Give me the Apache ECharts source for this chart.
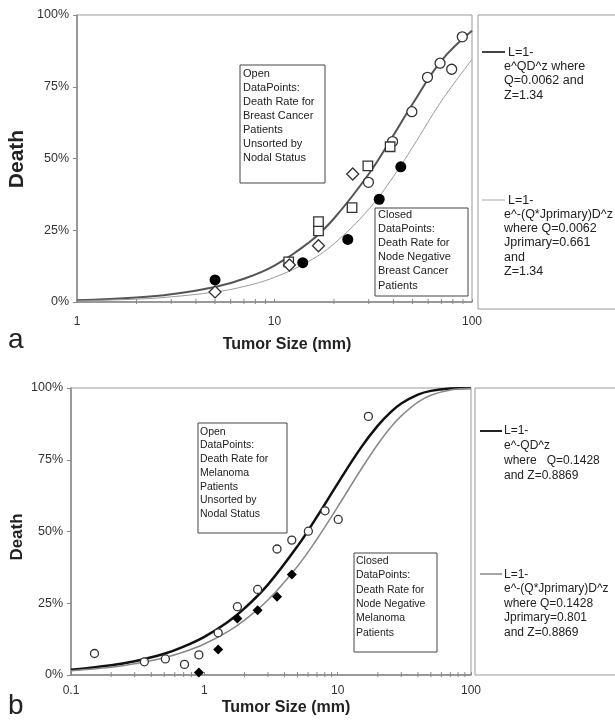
<!DOCTYPE html>
<html>
<head>
<meta charset="utf-8">
<script src="https://cdn.jsdelivr.net/npm/echarts@6/dist/echarts.min.js"></script>
<style>html,body{margin:0;padding:0;background:#fff}#c{width:615px;height:723px}</style>
</head>
<body>
<div id="c"></div>
<script>
// ---------- Panel a: breast cancer ----------
const aCurveD   = [1, 2, 3, 5, 7, 10, 15, 20, 30, 40, 50, 70, 100];
const aCurveAll = [0.006, 0.016, 0.027, 0.052, 0.081, 0.127, 0.208, 0.291, 0.446, 0.581, 0.690, 0.841, 0.945];
const aCurveNeg = [0.004, 0.010, 0.018, 0.035, 0.054, 0.086, 0.143, 0.203, 0.323, 0.437, 0.539, 0.700, 0.845];
const aOpenCircles = [[29.9,0.417],[39.6,0.559],[49.6,0.663],[59.5,0.783],[68.9,0.832],[78.9,0.811],[89.3,0.924]];
const aOpenSquares = [[11.8,0.140],[16.7,0.248],[16.7,0.280],[24.7,0.329],[29.7,0.474],[38.5,0.541]];
const aOpenDiamonds = [[5.0,0.035],[11.9,0.129],[16.7,0.196],[24.9,0.446]];
const aClosedCircles = [[5.0,0.077],[13.9,0.137],[23.5,0.218],[33.9,0.358],[43.6,0.471]];
const aMinorTicks = [2,3,4,5,6,7,8,9,20,30,40,50,60,70,80,90];

// ---------- Panel b: melanoma ----------
const bCurveD   = [0.1, 0.2, 0.3, 0.5, 0.7, 1, 1.5, 2, 3, 5, 7, 10, 15, 20, 25, 30, 40, 50, 70, 100];
const bCurveAll = [0.018, 0.034, 0.048, 0.074, 0.099, 0.133, 0.185, 0.232, 0.315, 0.449, 0.552, 0.667, 0.793, 0.869, 0.916, 0.946, 0.977, 0.990, 0.998, 1.0];
const bCurveNeg = [0.015, 0.027, 0.039, 0.060, 0.080, 0.108, 0.151, 0.191, 0.261, 0.379, 0.474, 0.586, 0.717, 0.804, 0.863, 0.903, 0.951, 0.975, 0.993, 0.999];
const bOpenCircles = [[0.15,0.075],[0.355,0.046],[0.51,0.056],[0.71,0.037],[0.91,0.070],[1.27,0.147],[1.77,0.238],[2.51,0.298],[3.51,0.439],[4.53,0.470],[6.03,0.501],[8.04,0.572],[10.1,0.542],[17.0,0.901]];
const bClosedDiamonds = [[0.91,0.009],[1.27,0.089],[1.77,0.197],[2.51,0.226],[3.51,0.273],[4.53,0.350]];
const bMinorTicks = [0.2,0.3,0.4,0.5,0.6,0.7,0.8,0.9,2,3,4,5,6,7,8,9,20,30,40,50,60,70,80,90];

const yTicks = ['0%','25%','50%','75%','100%'];

const FONT = 'Liberation Sans, Arial, sans-serif';
const zip = (xs, ys) => xs.map((x, i) => [x, ys[i]]);

const chart = echarts.init(document.getElementById('c'), null, {renderer: 'canvas'});

function minorSeries(idx, vals) {
  return {
    type: 'custom', xAxisIndex: idx, yAxisIndex: idx, silent: true, clip: false, z: 1,
    data: vals.map(v => [v, 0]),
    encode: {x: 0, y: 1},
    renderItem: (params, api) => {
      const p = api.coord([api.value(0), 0]);
      return {type: 'line', shape: {x1: p[0], y1: p[1] - 3, x2: p[0], y2: p[1] + 2},
              style: {stroke: '#888', lineWidth: 1}};
    }
  };
}

function yAxisCfg(idx) {
  return {
    type: 'value', gridIndex: idx, min: 0, max: 1, interval: 0.25,
    axisLine: {show: true, lineStyle: {color: '#888', width: 1.5}},
    axisTick: {show: true, length: 4, lineStyle: {color: '#888'}},
    splitLine: {show: false},
    axisLabel: {margin: 8, color: '#333', fontSize: 12.5, fontFamily: FONT,
      formatter: v => yTicks[Math.round(v / 0.25)]}
  };
}

function xAxisCfg(idx, min, margin) {
  return {
    type: 'log', logBase: 10, gridIndex: idx, min: min, max: 100,
    axisLine: {show: true, lineStyle: {color: '#888', width: 1.5}},
    axisTick: {show: true, inside: true, length: 3, lineStyle: {color: '#888'}},
    splitLine: {show: false}, minorTick: {show: false},
    axisLabel: {margin: margin, color: '#333', fontSize: 12, fontFamily: FONT}
  };
}

function textBox(x, y, w, h, lines, fs, lh, tx, ty) {
  return [
    {type: 'rect', shape: {x: x, y: y, width: w, height: h}, z: 50,
     style: {fill: '#fff', stroke: '#444', lineWidth: 1}},
    {type: 'text', x: tx, y: ty, z: 51,
     style: {text: lines.join('\n'), font: fs + 'px ' + FONT, lineHeight: lh, fill: '#222',
             verticalAlign: 'top'}}
  ];
}

function legendLines(x, y, lines, fs, lh) {
  return {type: 'text', x: x, y: y, z: 51,
    style: {text: lines.join('\n'), font: fs + 'px ' + FONT, lineHeight: lh, fill: '#222',
            verticalAlign: 'top'}};
}

const graphic = [
  // panel letters
  {type: 'text', x: 8, y: 340, style: {text: 'a', font: '28px ' + FONT, fill: '#222', verticalAlign: 'middle'}},
  {type: 'text', x: 8, y: 706, style: {text: 'b', font: '28px ' + FONT, fill: '#222', verticalAlign: 'middle'}},
  // axis titles
  {type: 'text', x: 17, y: 159, rotation: Math.PI / 2,
   style: {text: 'Death', font: 'bold 21px ' + FONT, fill: '#222', align: 'center', verticalAlign: 'middle'}},
  {type: 'text', x: 287, y: 345,
   style: {text: 'Tumor Size (mm)', font: 'bold 16px ' + FONT, fill: '#222', align: 'center', verticalAlign: 'middle'}},
  {type: 'text', x: 17, y: 537, rotation: Math.PI / 2,
   style: {text: 'Death', font: 'bold 17px ' + FONT, fill: '#222', align: 'center', verticalAlign: 'middle'}},
  {type: 'text', x: 286, y: 708,
   style: {text: 'Tumor Size (mm)', font: 'bold 16px ' + FONT, fill: '#222', align: 'center', verticalAlign: 'middle'}},

  // panel a text boxes
  ...textBox(240, 65, 85, 118, ['Open', 'DataPoints:', 'Death Rate for', 'Breast Cancer', 'Patients', 'Unsorted by', 'Nodal Status'], 11, 14, 243, 67),
  ...textBox(375, 208, 93, 88, ['Closed', 'DataPoints:', 'Death Rate for', 'Node Negative', 'Breast Cancer', 'Patients'], 11, 14.1, 378, 208),
  // panel a legend
  {type: 'rect', shape: {x: 478, y: 15, width: 160, height: 294}, z: 50, style: {fill: '#fff', stroke: '#999', lineWidth: 1}},
  {type: 'line', shape: {x1: 482, y1: 52, x2: 505, y2: 52}, z: 51, style: {stroke: '#444', lineWidth: 2}},
  legendLines(508, 45, ['L=1-'], 12.5, 14.3),
  legendLines(504, 59.5, ['e^QD^z where', 'Q=0.0062 and', 'Z=1.34'], 12.5, 14.3),
  {type: 'line', shape: {x1: 482, y1: 200, x2: 505, y2: 200}, z: 51, style: {stroke: '#aaa', lineWidth: 1}},
  legendLines(508, 193, ['L=1-'], 12.5, 14.3),
  legendLines(504, 207, ['e^-(Q*Jprimary)D^z', 'where Q=0.0062', 'Jprimary=0.661', 'and', 'Z=1.34'], 12.5, 14.3),

  // panel b text boxes
  ...textBox(198, 423, 89, 110, ['Open', 'DataPoints:', 'Death Rate for', 'Melanoma', 'Patients', 'Unsorted by', 'Nodal Status'], 10.5, 13.7, 200, 425),
  ...textBox(354, 553, 83, 99, ['Closed', 'DataPoints:', 'Death Rate for', 'Node Negative', 'Melanoma', 'Patients'], 10.5, 14.3, 356, 554),
  // panel b legend
  {type: 'rect', shape: {x: 475, y: 388, width: 160, height: 287}, z: 50, style: {fill: '#fff', stroke: '#999', lineWidth: 1}},
  {type: 'line', shape: {x1: 480, y1: 431, x2: 502, y2: 431}, z: 51, style: {stroke: '#222', lineWidth: 2}},
  legendLines(504, 423.5, ['L=1-', 'e^-QD^z', 'where   Q=0.1428', 'and Z=0.8869'], 12, 14.8),
  {type: 'line', shape: {x1: 480, y1: 574, x2: 502, y2: 574}, z: 51, style: {stroke: '#888', lineWidth: 1.5}},
  legendLines(504, 567, ['L=1-', 'e^-(Q*Jprimary)D^z', 'where Q=0.1428', 'Jprimary=0.801', 'and Z=0.8869'], 12, 14.5)
];

const openStyle = {color: '#fff', borderColor: '#333', borderWidth: 1.3, opacity: 1};
const option = {
  animation: false,
  backgroundColor: '#fff',
  textStyle: {fontFamily: FONT},
  grid: [
    {left: 77, top: 15, width: 395, height: 287, show: true, borderColor: '#999', borderWidth: 1, backgroundColor: 'transparent'},
    {left: 71, top: 388, width: 400, height: 287, show: true, borderColor: '#999', borderWidth: 1, backgroundColor: 'transparent'}
  ],
  xAxis: [xAxisCfg(0, 1, 14), xAxisCfg(1, 0.1, 10)],
  yAxis: [yAxisCfg(0), yAxisCfg(1)],
  series: [
    minorSeries(0, aMinorTicks),
    minorSeries(1, bMinorTicks),
    {type: 'line', name: 'a all', xAxisIndex: 0, yAxisIndex: 0, data: zip(aCurveD, aCurveAll),
     smooth: 0.4, showSymbol: false, z: 3, lineStyle: {color: '#555', width: 2}},
    {type: 'line', name: 'a neg', xAxisIndex: 0, yAxisIndex: 0, data: zip(aCurveD, aCurveNeg),
     smooth: 0.4, showSymbol: false, z: 3, lineStyle: {color: '#999', width: 1}},
    {type: 'scatter', xAxisIndex: 0, yAxisIndex: 0, data: aOpenCircles, symbol: 'circle', symbolSize: 10, z: 5,
     itemStyle: openStyle},
    {type: 'scatter', xAxisIndex: 0, yAxisIndex: 0, data: aOpenSquares, symbol: 'rect', symbolSize: 9.5, z: 5,
     itemStyle: openStyle},
    {type: 'scatter', xAxisIndex: 0, yAxisIndex: 0, data: aOpenDiamonds, symbol: 'diamond', symbolSize: 12, z: 5,
     itemStyle: openStyle},
    {type: 'scatter', xAxisIndex: 0, yAxisIndex: 0, data: aClosedCircles, symbol: 'circle', symbolSize: 11, z: 5,
     itemStyle: {color: '#000', opacity: 1}},
    {type: 'line', name: 'b all', xAxisIndex: 1, yAxisIndex: 1, data: zip(bCurveD, bCurveAll),
     smooth: 0.4, showSymbol: false, z: 3, lineStyle: {color: '#111', width: 2.5}},
    {type: 'line', name: 'b neg', xAxisIndex: 1, yAxisIndex: 1, data: zip(bCurveD, bCurveNeg),
     smooth: 0.4, showSymbol: false, z: 3, lineStyle: {color: '#888', width: 1.5}},
    {type: 'scatter', xAxisIndex: 1, yAxisIndex: 1, data: bOpenCircles, symbol: 'circle', symbolSize: 8, z: 5,
     itemStyle: openStyle},
    {type: 'scatter', xAxisIndex: 1, yAxisIndex: 1, data: bClosedDiamonds, symbol: 'diamond', symbolSize: 10, z: 5,
     itemStyle: {color: '#000', opacity: 1}}
  ],
  graphic: graphic
};
chart.setOption(option);
</script>
</body>
</html>
